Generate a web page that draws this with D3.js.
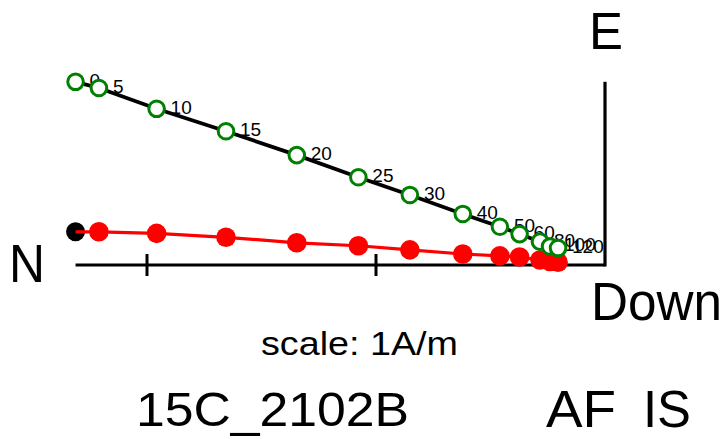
<!DOCTYPE html>
<html>
<head>
<meta charset="utf-8">
<script src="https://cdn.jsdelivr.net/npm/d3@7"></script>
<style>
  body { margin: 0; background: #fff; }
  svg { display: block; font-family: "Liberation Sans", Arial, sans-serif; }
</style>
</head>
<body>
<div id="chart"></div>
<script>
// demag steps (mT) and components in A/m
var steps = [0, 5, 10, 15, 20, 25, 30, 40, 50, 60, 80, 100, 120];
var north = [2.312, 2.210, 1.958, 1.655, 1.346, 1.077, 0.852, 0.621, 0.459, 0.373, 0.284, 0.240, 0.205];
var east = [0.800, 0.773, 0.682, 0.584, 0.480, 0.383, 0.306, 0.223, 0.167, 0.135, 0.102, 0.081, 0.074];
var up = [0.145, 0.145, 0.138, 0.121, 0.097, 0.084, 0.066, 0.048, 0.040, 0.035, 0.022, 0.015, 0.012];
var axisTicks = [1, 2];

var width = 727, height = 439;
var ox = 605, oy = 265, pxPerUnit = 229;

var svg = d3.select("#chart")
    .append("svg")
    .attr("width", width)
    .attr("height", height);

// N runs to the left, E / vertical runs up, same scale on both
var x = d3.scaleLinear().domain([0, 1]).range([ox, ox - pxPerUnit]);
var y = d3.scaleLinear().domain([0, 1]).range([oy, oy - pxPerUnit]);

var pts = steps.map(function(s, i) {
    return {step: s, n: north[i], e: east[i], u: up[i]};
});

// axes
svg.append("line")
    .attr("x1", x(0)).attr("y1", y(0))
    .attr("x2", x(d3.max(north))).attr("y2", y(0))
    .attr("stroke", "black").attr("stroke-width", 3.2);
svg.append("line")
    .attr("x1", x(0)).attr("y1", y(0) + 1.5)
    .attr("x2", x(0)).attr("y2", y(d3.max(east)))
    .attr("stroke", "black").attr("stroke-width", 3.2);
svg.selectAll(".tick")
    .data(axisTicks)
    .enter().append("line")
    .attr("class", "tick")
    .attr("x1", d => x(d)).attr("x2", d => x(d))
    .attr("y1", y(0) - 11).attr("y2", y(0) + 11)
    .attr("stroke", "black").attr("stroke-width", 3);

// horizontal projection (E vs N)
var lineH = d3.line().x(d => x(d.n)).y(d => y(d.e));
svg.append("path")
    .datum(pts)
    .attr("d", lineH)
    .attr("fill", "none")
    .attr("stroke", "black")
    .attr("stroke-width", 3.8);

// vertical projection, first step marked black
svg.append("circle")
    .attr("cx", x(pts[0].n)).attr("cy", y(pts[0].u))
    .attr("r", 9.5).attr("fill", "black");
var lineV = d3.line().x(d => x(d.n)).y(d => y(d.u));
svg.append("path")
    .datum(pts)
    .attr("d", lineV)
    .attr("fill", "none")
    .attr("stroke", "red")
    .attr("stroke-width", 3.2);
svg.selectAll(".vpt")
    .data(pts.slice(1))
    .enter().append("circle")
    .attr("class", "vpt")
    .attr("cx", d => x(d.n)).attr("cy", d => y(d.u))
    .attr("r", 9.8).attr("fill", "red");

var g = svg.selectAll(".hpt")
    .data(pts)
    .enter().append("g")
    .attr("class", "hpt");
g.append("circle")
    .attr("cx", d => x(d.n)).attr("cy", d => y(d.e))
    .attr("r", 7.8)
    .attr("fill", "white")
    .attr("stroke", "green")
    .attr("stroke-width", 3);
g.append("text")
    .attr("x", d => x(d.n) + 14)
    .attr("y", d => y(d.e) + 5)
    .attr("font-size", 19)
    .text(d => d.step);

// labels
svg.append("text").attr("x", 9).attr("y", 282)
    .attr("font-size", 54)
    .attr("textLength", 36).attr("lengthAdjust", "spacingAndGlyphs")
    .text("N");
svg.append("text").attr("x", 589).attr("y", 49)
    .attr("font-size", 51)
    .attr("textLength", 34).attr("lengthAdjust", "spacingAndGlyphs")
    .text("E");
svg.append("text").attr("x", 591).attr("y", 320)
    .attr("font-size", 53)
    .attr("textLength", 131).attr("lengthAdjust", "spacingAndGlyphs")
    .text("Down");
svg.append("text").attr("x", 261).attr("y", 355)
    .attr("font-size", 34)
    .attr("textLength", 197).attr("lengthAdjust", "spacingAndGlyphs")
    .text("scale: 1A/m");
svg.append("text").attr("x", 136).attr("y", 426)
    .attr("font-size", 48)
    .attr("textLength", 273).attr("lengthAdjust", "spacingAndGlyphs")
    .text("15C_2102B");
svg.append("text").attr("x", 546).attr("y", 427)
    .attr("font-size", 51)
    .attr("textLength", 70).attr("lengthAdjust", "spacingAndGlyphs")
    .text("AF");
svg.append("text").attr("x", 643).attr("y", 427)
    .attr("font-size", 51)
    .attr("textLength", 48).attr("lengthAdjust", "spacingAndGlyphs")
    .text("IS");
</script>
</body>
</html>
